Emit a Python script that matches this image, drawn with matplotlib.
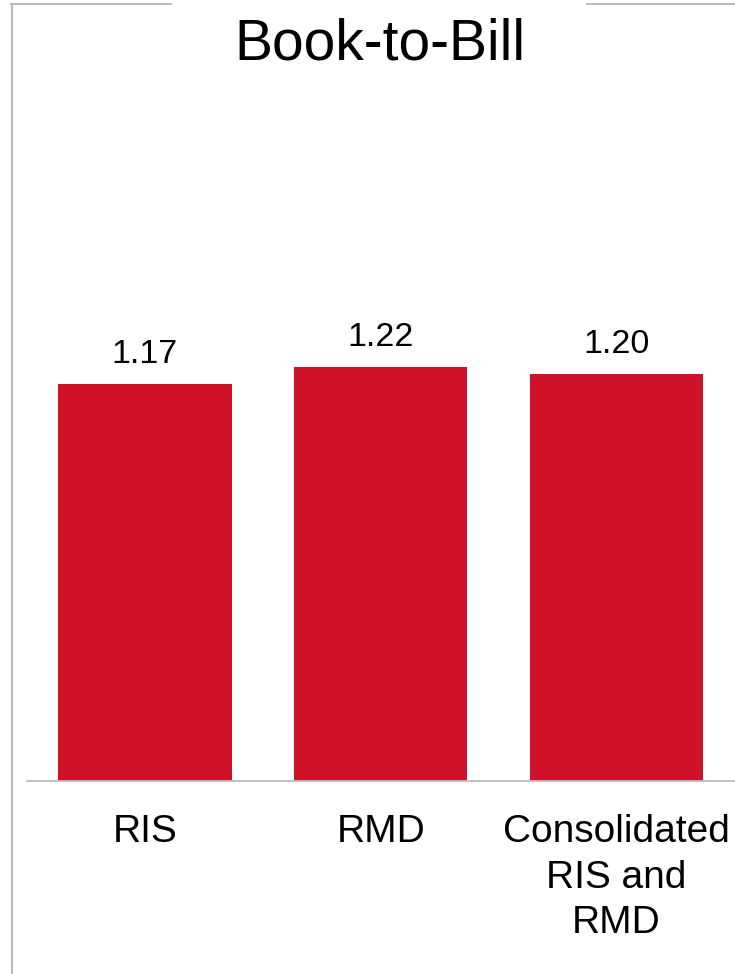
import matplotlib.pyplot as plt
from matplotlib.lines import Line2D

plt.rcParams['font.family'] = ['Liberation Sans', 'DejaVu Sans']

categories = ['RIS', 'RMD', 'Consolidated\nRIS and\nRMD']
values = [1.17, 1.22, 1.20]
value_labels = ['1.17', '1.22', '1.20']

W, H, DPI = 735, 974, 100
fig = plt.figure(figsize=(W / DPI, H / DPI), dpi=DPI)

# axes placed in pixel terms: baseline at y=781, starts at x=27
ax_left, ax_bottom = 27 / W, (H - 781) / H
ax_height = 2.0 * 339.3 / H
ax = fig.add_axes([ax_left, ax_bottom, 1 - ax_left, ax_height])

x = range(len(categories))
bars = ax.bar(x, values, width=0.735, color='#cf1228', zorder=2)
ax.set_xlim(-0.5, 2.503)
ax.set_ylim(0, 2.0)

for b, lab in zip(bars, value_labels):
    ax.annotate(lab, (b.get_x() + b.get_width() / 2, b.get_height()),
                xytext=(0, 15), textcoords='offset points',
                ha='center', va='baseline', fontsize=24.5, color='black')

for xi, cat in zip(x, categories):
    ax.annotate(cat, (xi, 0), xytext=(0, -24), textcoords='offset points',
                ha='center', va='top', fontsize=28, linespacing=1.34,
                color='black', annotation_clip=False)

for s in ['left', 'right', 'top']:
    ax.spines[s].set_visible(False)
ax.spines['bottom'].set_color('#bdbdbd')
ax.spines['bottom'].set_linewidth(1.3)
ax.set_xticks([])
ax.set_yticks([])

# title
fig.text(380 / W, (H - 60) / H, 'Book-to-Bill', ha='center', va='baseline',
         fontsize=41, color='black')

# outer frame (partial box behind the title)
frame_kw = dict(color='#b4b4b4', linewidth=1.3, transform=fig.transFigure)
fig.add_artist(Line2D([12 / W, 12 / W], [(H - 4) / H, 0], **frame_kw))
fig.add_artist(Line2D([11 / W, 171 / W], [(H - 4) / H, (H - 4) / H], **frame_kw))
fig.add_artist(Line2D([587 / W, 1], [(H - 4) / H, (H - 4) / H], **frame_kw))

fig.savefig('out.png', dpi=DPI)
